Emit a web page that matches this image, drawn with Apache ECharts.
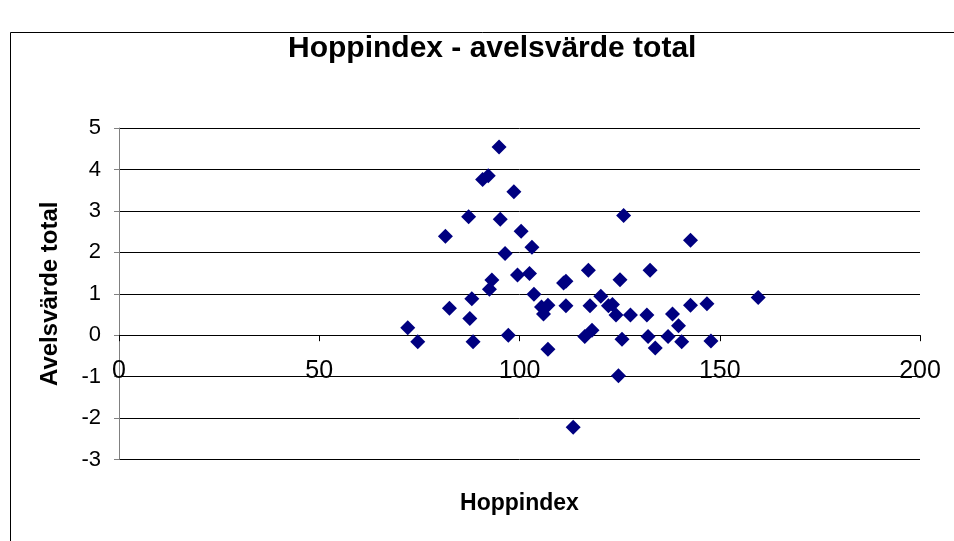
<!DOCTYPE html>
<html>
<head>
<meta charset="utf-8">
<script src="https://cdn.jsdelivr.net/npm/echarts@6/dist/echarts.min.js"></script>
<style>
  html, body { margin: 0; padding: 0; background: #fff; }
  #main { width: 954px; height: 541px; }
</style>
</head>
<body>
<div id="main"></div>
<script>
  // Hoppindex (x) och avelsvärde total (y)
  var hoppindex = [
    72.1, 74.6, 81.5, 82.5, 87.3, 88.1, 87.6, 88.4, 90.8, 92.2,
    92.5, 93.1, 94.9, 95.2, 96.4, 97.2, 98.6, 99.5, 100.4, 102.5,
    103.1, 103.6, 105.5, 106.0, 107.1, 107.1, 111.0, 111.6, 111.6, 113.4,
    116.3, 117.2, 117.6, 118.1, 120.3, 122.2, 123.2, 124.1, 124.7, 125.1,
    125.6, 126.0, 127.7, 131.8, 132.1, 132.6, 133.9, 137.1, 138.2, 139.7,
    140.5, 142.7, 142.7, 146.8, 147.8, 159.6
  ];
  var avelsvarde = [
    0.18, -0.16, 2.39, 0.65, 2.86, 0.88, 0.40, -0.16, 3.76, 3.85,
    1.11, 1.33, 4.54, 2.80, 1.97, 0.00, 3.46, 1.45, 2.51, 1.49,
    2.12, 0.99, 0.68, 0.51, 0.72, -0.34, 1.26, 1.30, 0.71, -2.22,
    -0.03, 1.57, 0.71, 0.12, 0.94, 0.71, 0.74, 0.49, -0.98, 1.34,
    -0.10, 2.89, 0.49, 0.49, -0.03, 1.57, -0.31, -0.03, 0.51, 0.23,
    -0.16, 2.29, 0.72, 0.76, -0.14, 0.91
  ];

  var punkter = hoppindex.map(function (x, i) { return [x, avelsvarde[i]]; });

  // x-axeln ligger vid y = 0 (3 enheter ovanför nederkanten av -3..5)
  var plotTop = 128, plotBottom = 459.5;
  var nollOffset = (plotBottom - plotTop) * 3 / 8;

  var chart = echarts.init(document.getElementById('main'));
  chart.setOption({
    animation: false,
    backgroundColor: '#fff',
    graphic: [{
      type: 'rect',
      shape: { x: 10.5, y: 32.5, width: 1000, height: 600 },
      style: { fill: 'none', stroke: '#000', lineWidth: 1 }
    }],
    title: {
      text: 'Hoppindex - avelsvärde total',
      left: 283,
      top: 29,
      textStyle: { fontFamily: 'Liberation Sans', fontSize: 30, fontWeight: 'bold', color: '#000' }
    },
    grid: { left: 119, right: 34, top: plotTop, bottom: 541 - plotBottom, containLabel: false, outerBoundsMode: 'none' },
    xAxis: {
      type: 'value',
      min: 0, max: 200, interval: 50,
      offset: -nollOffset,
      name: 'Hoppindex',
      nameLocation: 'middle',
      nameGap: 157,
      nameTextStyle: { fontFamily: 'Liberation Sans', fontSize: 23, fontWeight: 'bold', color: '#000' },
      axisLine: { onZero: false, lineStyle: { color: '#000', width: 1 } },
      axisTick: { show: true, inside: false, length: 6, lineStyle: { color: '#000' } },
      axisLabel: { margin: 23, fontFamily: 'Liberation Sans', fontSize: 25, color: '#000' },
      splitLine: { show: false }
    },
    yAxis: {
      type: 'value',
      min: -3, max: 5, interval: 1,
      name: 'Avelsvärde total',
      nameLocation: 'middle',
      nameGap: 57,
      nameRotate: 90,
      nameTextStyle: { fontFamily: 'Liberation Sans', fontSize: 24, fontWeight: 'bold', color: '#000' },
      axisLine: { show: true, lineStyle: { color: '#808080', width: 1 } },
      axisTick: { show: true, length: 5, lineStyle: { color: '#808080' } },
      axisLabel: { margin: 18, fontFamily: 'Liberation Sans', fontSize: 22, color: '#000' },
      splitLine: { show: true, lineStyle: { color: '#000', width: 1 } }
    },
    series: [{
      type: 'scatter',
      data: punkter,
      symbol: 'diamond',
      symbolSize: 15,
      itemStyle: { color: '#000080', opacity: 1 }
    }]
  });
</script>
</body>
</html>
